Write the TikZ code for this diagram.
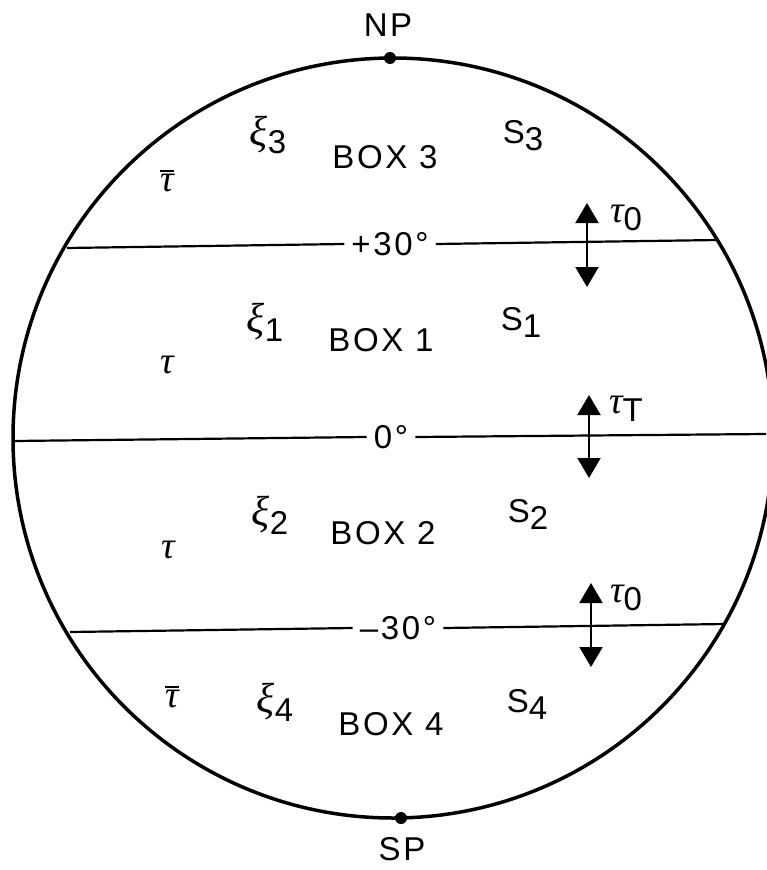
\documentclass[tikz,border=0pt]{standalone}
\usepackage{fontspec}
\setmainfont{Liberation Sans}[LetterSpace=8]
\newfontfamily\grkfont{Liberation Serif}
\usetikzlibrary{arrows.meta}
\newcommand\lowsub[1]{\raisebox{-0.4ex}{\fontsize{33}{36}\selectfont\upshape #1}}
\newcommand\gxi{{\grkfont\itshape ξ}}
\newcommand\gtau{{\grkfont\itshape τ}}
\newcommand\gtaubar{\vbox{\hrule height 2.5pt\kern2pt\hbox{\gtau}}}
\tikzset{
  lettering/.style={font=\fontsize{33}{36}\selectfont, inner sep=0pt},
  greek/.style={font=\fontsize{42}{46}\selectfont, inner sep=0pt},
  taulbl/.style={font=\fontsize{38}{42}\selectfont, inner sep=0pt},
  latlbl/.style={font=\fontsize{33}{36}\selectfont, inner sep=7pt},
  latline/.style={line width=2.2pt},
  globe/.style={line width=3.5pt},
  pole/.style={circle, fill=black, inner sep=0pt, minimum size=12pt},
  dblarrow/.style={line width=2.2pt, {Triangle[width=23pt,length=20pt]}-{Triangle[width=23pt,length=20pt]}}
}
\begin{document}
\begin{tikzpicture}[x=1pt,y=-1pt]
\useasboundingbox (0,0) rectangle (766,870);
% globe
\coordinate (c) at (393,438);
\draw[globe] (c) circle[radius=380pt];
\node[pole] (np) at (390,58) {};
\node[pole] (sp) at (401,818) {};
\node[lettering] (nplbl) at (388,25) {NP};
\node[lettering] (splbl) at (402,849) {SP};
% latitude lines
\coordinate (p30l) at (67,248);
\coordinate (p30r) at (718,240);
\coordinate (eql) at (14,441);
\coordinate (eqr) at (766,434);
\coordinate (m30l) at (70,632);
\coordinate (m30r) at (725,624);
\node[latlbl] (p30) at (390,244) {+30°};
\node[latlbl] (eq) at (391,437) {0°};
\node[latlbl] (m30) at (398,628) {–30°};
\draw[latline] (p30l) -- (p30.west);
\draw[latline] (p30.east) -- (p30r);
\draw[latline] (eql) -- (eq.west);
\draw[latline] (eq.east) -- (eqr);
\draw[latline] (m30l) -- (m30.west);
\draw[latline] (m30.east) -- (m30r);
% box 3
\node[greek] (xi3) at (268,135) {\gxi\lowsub{3}};
\node[lettering] (box3) at (385,157) {BOX 3};
\node[lettering] (s3) at (523,136) {S\lowsub{3}};
\node[taulbl] (tb3) at (167,181) {\gtaubar};
% box 1
\node[greek] (xi1) at (265,322) {\gxi\lowsub{1}};
\node[lettering] (box1) at (381,340) {BOX 1};
\node[lettering] (s1) at (521,322) {S\lowsub{1}};
\node[taulbl] (t1) at (167,365) {\gtau};
% box 2
\node[greek] (xi2) at (270,515) {\gxi\lowsub{2}};
\node[lettering] (box2) at (383,533) {BOX 2};
\node[lettering] (s2) at (528,514) {S\lowsub{2}};
\node[taulbl] (t2) at (168,550) {\gtau};
% box 4
\node[greek] (xi4) at (275,702) {\gxi\lowsub{4}};
\node[lettering] (box4) at (391,724) {BOX 4};
\node[lettering] (s4) at (527,704) {S\lowsub{4}};
\node[taulbl] (tb4) at (172,697) {\gtaubar};
% stress arrows
\coordinate (a1t) at (587,203);
\coordinate (a1b) at (587,287);
\coordinate (a2t) at (589,395);
\coordinate (a2b) at (589,478);
\coordinate (a3t) at (591,583);
\coordinate (a3b) at (591,667);
\draw[dblarrow] (a1t) -- (a1b);
\draw[dblarrow] (a2t) -- (a2b);
\draw[dblarrow] (a3t) -- (a3b);
\node[taulbl] (tau0a) at (626,218) {\gtau\lowsub{0}};
\node[taulbl] (tauT) at (626,409) {\gtau\lowsub{T}};
\node[taulbl] (tau0b) at (626,598) {\gtau\lowsub{0}};
\end{tikzpicture}
\end{document}
